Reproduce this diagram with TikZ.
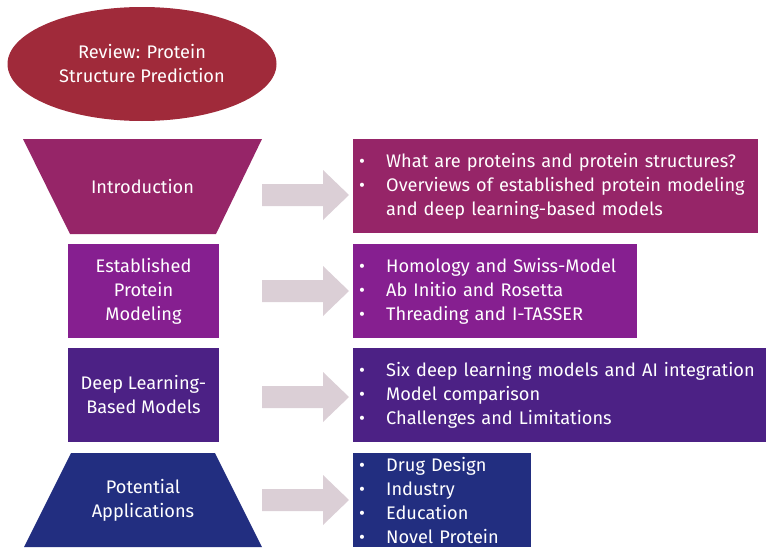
\documentclass[tikz,border=0pt]{standalone}
\usepackage{fontspec}
\setmainfont{Fira Sans}
\usetikzlibrary{shapes.geometric,positioning}
\definecolor{reviewred}{HTML}{A02A3A}
\definecolor{introcol}{HTML}{962568}
\definecolor{estabcol}{HTML}{861F90}
\definecolor{deepcol}{HTML}{4C2185}
\definecolor{applcol}{HTML}{222E80}
\definecolor{arrowgray}{HTML}{DBCFD6}
\newcommand{\bul}{\makebox[27pt][l]{\textbullet}}
\newcommand{\gap}{\hspace*{27pt}}
\tikzset{
  txt/.style={text=white,font=\fontsize{18.2}{24}\selectfont},
  stage/.style={txt,fill=#1,inner sep=0pt,outer sep=0pt,align=center},
  label/.style={txt,inner sep=0pt,align=center},
  topic/.style={txt,fill=#1,anchor=north west,inner xsep=6pt,inner ysep=0pt,
    minimum height=94pt,align=left},
}
\begin{document}
\begin{tikzpicture}[x=1pt,y=-1pt]
\useasboundingbox (0,0) rectangle (772,554);
% title
\node[stage=reviewred,ellipse,minimum width=269pt,minimum height=114pt]
  (review) at (142,64) {Review: Protein\\Structure Prediction};
% left column
\fill[introcol] (23,139) -- (262,139) -- (216,234) -- (70,234) -- cycle;
\node[label] (intro) at (142.5,186.5) {Introduction};
\node[stage=estabcol,minimum width=151pt,minimum height=94pt] (estab) at (143.5,291) {Established\\Protein\\Modeling};
\node[stage=deepcol,minimum width=151pt,minimum height=94pt] (deep) at (143.5,395) {Deep Learning-\\Based Models};
\fill[applcol] (71,453) -- (215,453) -- (262,547) -- (24,547) -- cycle;
\node[label] (appl) at (143,500) {Potential\\Applications};
% right column
\node[topic=introcol,text width=393pt] (introlist) at (353,139)
  {\bul What are proteins and protein structures?\\
   \bul Overviews of established protein modeling\\
   \gap and deep learning-based models};
\node[topic=estabcol,text width=272pt] (establist) at (353,244)
  {\bul Homology and Swiss-Model\\
   \bul Ab Initio and Rosetta\\
   \bul Threading and I-TASSER};
\node[topic=deepcol,text width=401pt] (deeplist) at (353,348)
  {\bul Six deep learning models and AI integration\\
   \bul Model comparison\\
   \bul Challenges and Limitations};
\node[topic=applcol,text width=166pt] (appllist) at (353,453)
  {\bul Drug Design\\
   \bul Industry\\
   \bul Education\\
   \bul Novel Protein};
% block arrows
\foreach \y in {195,291,397,500}
  \fill[arrowgray] (262,\y-11) -- (323,\y-11) -- (323,\y-25) -- (349,\y)
    -- (323,\y+25) -- (323,\y+11) -- (262,\y+11) -- cycle;
\end{tikzpicture}
\end{document}
